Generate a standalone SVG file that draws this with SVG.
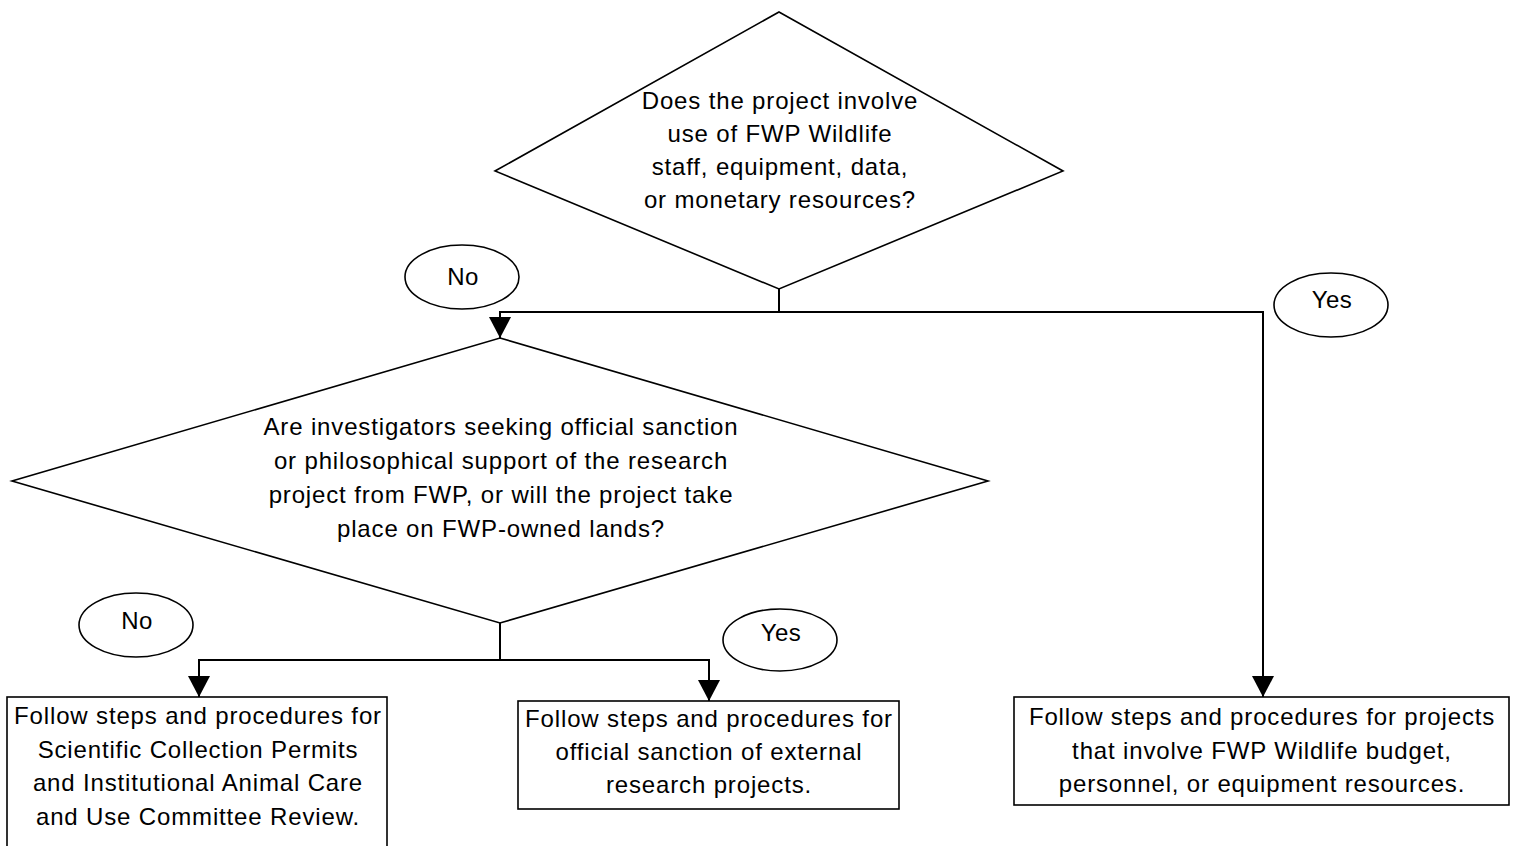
<svg xmlns="http://www.w3.org/2000/svg" width="1518" height="846" viewBox="0 0 1518 846">
  <style>
    .shape { fill: #ffffff; stroke: #000000; stroke-width: 1.6; }
    .conn { fill: none; stroke: #000000; stroke-width: 2; }
    .t { font-family: "Liberation Sans", Arial, sans-serif; font-size: 24px; letter-spacing: 0.85px; fill: #000000; text-anchor: middle; }
    .lbl { font-family: "Liberation Sans", Arial, sans-serif; font-size: 24px; letter-spacing: 0.5px; fill: #000000; text-anchor: middle; }
  </style>
  <defs>
    <marker id="arrow" viewBox="0 0 21 22" refX="21" refY="11" markerWidth="21" markerHeight="22" markerUnits="userSpaceOnUse" orient="auto">
      <path d="M0,0 L21,11 L0,22 z" fill="#000000"/>
    </marker>
  </defs>
  <rect width="1518" height="846" fill="#ffffff"/>

  <g id="decision-resources">
    <polygon class="shape" points="779,12 1063,171 779,289 495,171"/>
    <text class="t" x="780" y="109">Does the project involve</text>
    <text class="t" x="780" y="142">use of FWP Wildlife</text>
    <text class="t" x="780" y="175">staff, equipment, data,</text>
    <text class="t" x="780" y="208">or monetary resources?</text>
  </g>

  <g id="decision-sanction">
    <polygon class="shape" points="500,338 988,481 500,623 12,481"/>
    <text class="t" x="501" y="435">Are investigators seeking official sanction</text>
    <text class="t" x="501" y="469">or philosophical support of the research</text>
    <text class="t" x="501" y="503">project from FWP, or will the project take</text>
    <text class="t" x="501" y="537">place on FWP-owned lands?</text>
  </g>

  <g id="connectors">
    <polyline class="conn" points="779,289 779,312 500,312 500,338" marker-end="url(#arrow)"/>
    <polyline class="conn" points="779,312 1263,312 1263,697" marker-end="url(#arrow)"/>
    <polyline class="conn" points="500,623 500,660 199,660 199,697" marker-end="url(#arrow)"/>
    <polyline class="conn" points="500,660 709,660 709,701" marker-end="url(#arrow)"/>
  </g>

  <g id="label-no-1">
    <ellipse class="shape" cx="462" cy="277" rx="57" ry="32"/>
    <text class="lbl" x="463" y="285">No</text>
  </g>

  <g id="label-yes-1">
    <ellipse class="shape" cx="1331" cy="305" rx="57" ry="32"/>
    <text class="lbl" x="1332" y="308">Yes</text>
  </g>

  <g id="label-no-2">
    <ellipse class="shape" cx="136" cy="625" rx="57" ry="32"/>
    <text class="lbl" x="137" y="629">No</text>
  </g>

  <g id="label-yes-2">
    <ellipse class="shape" cx="780" cy="640" rx="57" ry="31"/>
    <text class="lbl" x="781" y="641">Yes</text>
  </g>

  <g id="box-permits">
    <rect class="shape" x="7" y="697" width="380" height="160"/>
    <text class="t" x="198" y="724">Follow steps and procedures for</text>
    <text class="t" x="198" y="758">Scientific Collection Permits</text>
    <text class="t" x="198" y="791">and Institutional Animal Care</text>
    <text class="t" x="198" y="825">and Use Committee Review.</text>
  </g>

  <g id="box-sanction">
    <rect class="shape" x="518" y="701" width="381" height="108"/>
    <text class="t" x="709" y="727">Follow steps and procedures for</text>
    <text class="t" x="709" y="760">official sanction of external</text>
    <text class="t" x="709" y="793">research projects.</text>
  </g>

  <g id="box-resources">
    <rect class="shape" x="1014" y="697" width="495" height="108"/>
    <text class="t" x="1262" y="725">Follow steps and procedures for projects</text>
    <text class="t" x="1262" y="759">that involve FWP Wildlife budget,</text>
    <text class="t" x="1262" y="792">personnel, or equipment resources.</text>
  </g>
</svg>
